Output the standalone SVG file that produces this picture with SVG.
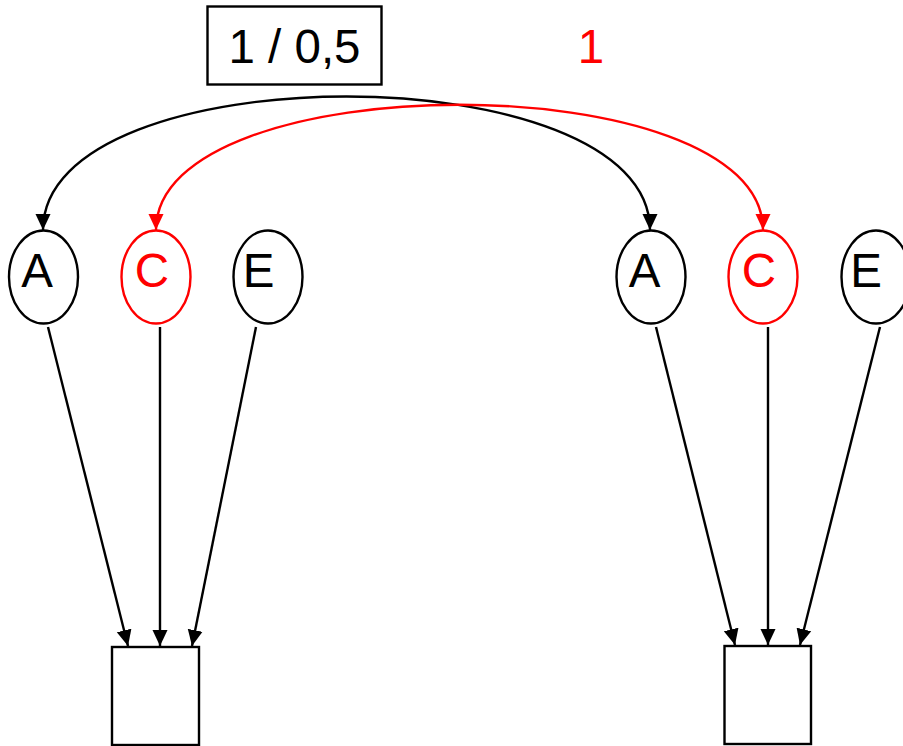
<svg xmlns="http://www.w3.org/2000/svg" width="903" height="746" viewBox="0 0 903 746">
<style>
.n{fill:#fff;stroke:#000;stroke-width:2.4}
.r{stroke:#f00}
.t{font-family:"Liberation Sans",Arial,sans-serif;font-size:47.5px;text-anchor:middle;fill:#000}
.tr{fill:#f00}
.e{fill:none;stroke:#000;stroke-width:2.4}
.er{stroke:#f00}
</style>
<defs>
<marker id="ab" viewBox="0 0 10 10" refX="10" refY="5" markerWidth="16" markerHeight="16" markerUnits="userSpaceOnUse" orient="auto-start-reverse"><path d="M0,0.3L10,5L0,9.7z" fill="#000"/></marker>
<marker id="ar" viewBox="0 0 10 10" refX="10" refY="5" markerWidth="16" markerHeight="16" markerUnits="userSpaceOnUse" orient="auto-start-reverse"><path d="M0,0.3L10,5L0,9.7z" fill="#f00"/></marker>
</defs>
<g id="edges">
<path class="e" d="M650,230 C650,52 43,52 43,230" marker-start="url(#ab)" marker-end="url(#ab)"/>
<path class="e er" d="M156,230 C156,63 763,63 763,230" marker-start="url(#ar)" marker-end="url(#ar)"/>
<path class="e" d="M48,327 L128,646" marker-end="url(#ab)"/>
<path class="e" d="M160,327 L160,646" marker-end="url(#ab)"/>
<path class="e" d="M256,327 L192,646" marker-end="url(#ab)"/>
<path class="e" d="M656,327 L735,645" marker-end="url(#ab)"/>
<path class="e" d="M768,327 L768,645" marker-end="url(#ab)"/>
<path class="e" d="M880,327 L800,645" marker-end="url(#ab)"/>
</g>
<g id="label1">
<rect class="n" x="207.5" y="6.5" width="174" height="78"/>
<text class="t" x="294.5" y="63">1 / 0,5</text>
</g>
<g id="label2"><text class="t tr" x="591" y="63">1</text></g>
<g id="A1"><ellipse class="n" cx="43.5" cy="277" rx="34.5" ry="46.5"/><text class="t" x="37" y="287">A</text></g>
<g id="C1"><ellipse class="n r" cx="156" cy="277" rx="34.5" ry="46.5"/><text class="t tr" x="152" y="287">C</text></g>
<g id="E1"><ellipse class="n" cx="268" cy="277" rx="34.5" ry="46.5"/><text class="t" x="258.5" y="287">E</text></g>
<g id="A2"><ellipse class="n" cx="651" cy="277" rx="34.5" ry="46.5"/><text class="t" x="644.5" y="287">A</text></g>
<g id="C2"><ellipse class="n r" cx="763" cy="277" rx="34.5" ry="46.5"/><text class="t tr" x="759" y="287">C</text></g>
<g id="E2"><ellipse class="n" cx="876" cy="277" rx="34.5" ry="46.5"/><text class="t" x="866" y="287">E</text></g>
<g id="B1"><rect class="n" x="112" y="647" width="87" height="98"/></g>
<g id="B2"><rect class="n" x="724.5" y="646" width="86.5" height="98"/></g>
</svg>
